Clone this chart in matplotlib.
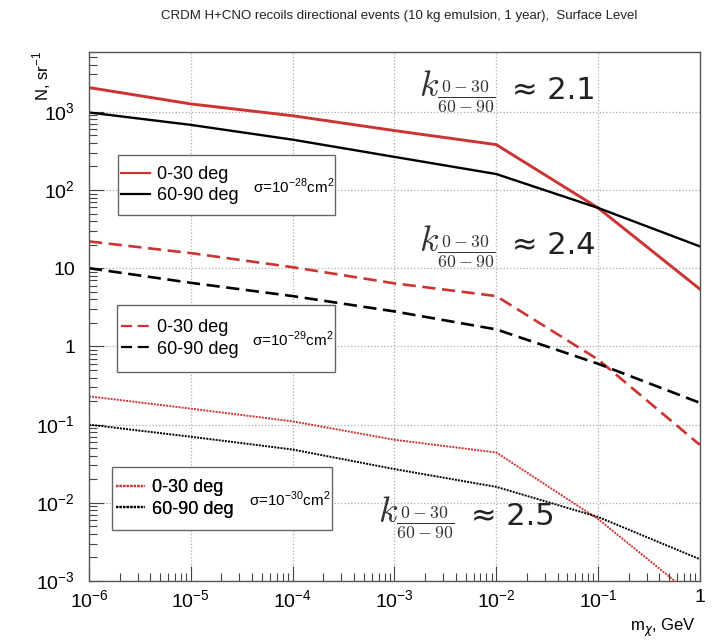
import math
import matplotlib
matplotlib.use("Agg")
import matplotlib.pyplot as plt
import matplotlib.ticker as mticker
from matplotlib.patches import Rectangle
from matplotlib.lines import Line2D

plt.rcParams['font.family'] = ['Liberation Sans', 'DejaVu Sans']
plt.rcParams['mathtext.fontset'] = 'custom'
plt.rcParams['mathtext.rm'] = 'Liberation Sans'

# masses, GeV
m_chi = [1e-6, 1e-5, 1e-4, 1e-3, 1e-2, 1e-1, 1.0]

# sigma = 1e-28 cm^2
n_0_30_28 = [2040, 1260, 890, 575, 380, 59, 5.4]
n_60_90_28 = [980, 680, 440, 265, 160, 59, 19]
# sigma = 1e-29 cm^2
n_0_30_29 = [22, 15.6, 10.3, 6.4, 4.4, 0.68, 0.055]
n_60_90_29 = [10, 6.5, 4.4, 2.8, 1.65, 0.6, 0.19]
# sigma = 1e-30 cm^2
n_0_30_30 = [0.23, 0.16, 0.11, 0.064, 0.044, 0.0062, 5.5e-4]
n_60_90_30 = [0.1, 0.07, 0.048, 0.027, 0.016, 0.0066, 0.0019]

sigmas = ['-28', '-29', '-30']
ratios = ['2.1', '2.4', '2.5']

x_decades = [1e-6, 1e-5, 1e-4, 1e-3, 1e-2, 1e-1, 1]
y_decades = [1e-3, 1e-2, 1e-1, 1, 10, 1e2, 1e3]

red = '#cc3333'

fig = plt.figure(figsize=(7.12, 6.43), dpi=100)
ax = fig.add_axes([0.125, 0.0964, 0.858, 0.8226])

ax.plot(m_chi, n_0_30_28, color=red, lw=2.1, ls='-')
ax.plot(m_chi, n_60_90_28, color='black', lw=1.7, ls='-')
ax.plot(m_chi, n_0_30_29, color=red, lw=1.9, ls=(0, (5, 2.5)))
ax.plot(m_chi, n_60_90_29, color='black', lw=1.9, ls=(0, (5, 2.5)))
ax.plot(m_chi, n_0_30_30, color=red, lw=1.4, ls=(0, (1, 0.6)))
ax.plot(m_chi, n_60_90_30, color='black', lw=1.4, ls=(0, (1, 0.6)))

ax.set_xscale('log')
ax.set_yscale('log')
ax.set_xlim(1e-6, 1)
ax.set_ylim(1e-3, 5.8e3)

def root_fmt(v, pos):
    e = int(round(math.log10(v)))
    if e == 0:
        return '1'
    if e == 1:
        return '10'
    return r'10$^{%d}$' % e

ax.xaxis.set_major_locator(mticker.FixedLocator(x_decades))
ax.yaxis.set_major_locator(mticker.FixedLocator(y_decades))
ax.xaxis.set_major_formatter(mticker.FuncFormatter(root_fmt))
ax.yaxis.set_major_formatter(mticker.FuncFormatter(root_fmt))
ax.xaxis.set_minor_locator(mticker.LogLocator(base=10, subs=range(2, 10), numticks=20))
ax.yaxis.set_minor_locator(mticker.LogLocator(base=10, subs=range(2, 10), numticks=20))
ax.xaxis.set_minor_formatter(mticker.NullFormatter())
ax.yaxis.set_minor_formatter(mticker.NullFormatter())

ax.tick_params(which='major', direction='in', length=11, width=0.8, labelsize=14, color='#444444')
ax.tick_params(which='minor', direction='in', length=6, width=0.8, color='#444444')
ax.tick_params(axis='x', pad=6)
ax.tick_params(axis='y', pad=10)
for s in ax.spines.values():
    s.set_color('#555555')
    s.set_linewidth(1.0)

ax.grid(True, which='major', ls=':', color='#aaaaaa', lw=0.9)

fig.text(0.56, 0.975, 'CRDM H+CNO recoils directional events (10 kg emulsion, 1 year),  Surface Level',
         ha='center', va='center', fontsize=9.5, color='#222222')
fig.text(0.058, 0.92, r'N, sr$^{-1}$', rotation=90, ha='center', va='top', fontsize=12)
fig.text(0.978, 0.006, r'm$_{\chi}$, GeV', ha='right', va='bottom', fontsize=12)

# legend boxes
boxes = [(0.047, 0.692, 0.356, 0.113), (0.046, 0.395, 0.356, 0.127), (0.038, 0.096, 0.36, 0.12)]
styles = ['-', (0, (5, 2.5)), (0, (1, 0.6))]
for (x0, y0, w, h), st, sg in zip(boxes, styles, sigmas):
    ax.add_patch(Rectangle((x0, y0), w, h, transform=ax.transAxes, fill=True,
                           facecolor='white', edgecolor='#666666', lw=1.0, zorder=5))
    handles = [Line2D([], [], color=red, ls=st, lw=1.6),
               Line2D([], [], color='black', ls=st, lw=1.6)]
    leg = ax.legend(handles, ['0-30 deg', '60-90 deg'], loc='center left',
                    bbox_to_anchor=(x0, y0 + h / 2), frameon=False, fontsize=13,
                    handlelength=1.6, handletextpad=0.4, labelspacing=0.25,
                    borderpad=0.2, borderaxespad=0.0)
    leg.set_zorder(6)
    ax.add_artist(leg)
    ax.text(x0 + w * 0.62, y0 + h * 0.48, r'σ=10$^{%s}$cm$^{2}$' % sg, transform=ax.transAxes,
            fontsize=11, ha='left', va='center', zorder=7)

# ratio annotations
k_pos = [(0.54, 0.925), (0.54, 0.633), (0.473, 0.12)]
for (kx, ky), r in zip(k_pos, ratios):
    ax.text(kx, ky, r'$\mathit{k}_{\frac{0-30}{60-90}}$', transform=ax.transAxes,
            fontsize=26, ha='left', va='center', math_fontfamily='cm', color='#333333')
    ax.text(kx + 0.152, ky + 0.002, '≈ ' + r, transform=ax.transAxes,
            fontsize=22, ha='left', va='center', family=['DejaVu Sans'], color='#222222')

fig.savefig('out.png', dpi=100)
